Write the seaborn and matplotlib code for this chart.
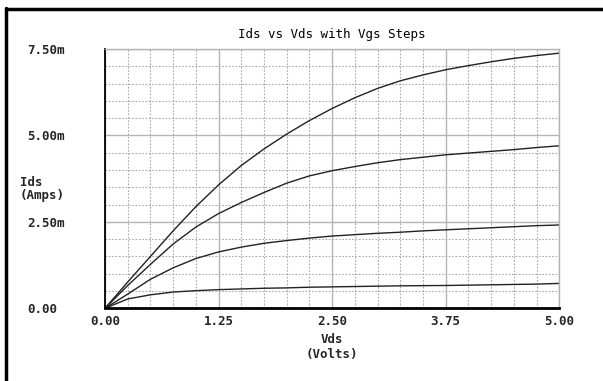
import matplotlib
matplotlib.use("Agg")
import matplotlib.pyplot as plt
from matplotlib.lines import Line2D
from matplotlib.ticker import MultipleLocator, FixedLocator
import numpy as np
import pandas as pd
import seaborn as sns

# drain voltage sweep (Volts)
vds = [0.0, 0.25, 0.5, 0.75, 1.0, 1.25, 1.5, 1.75, 2.0, 2.25, 2.5,
       2.75, 3.0, 3.25, 3.5, 3.75, 4.0, 4.25, 4.5, 4.75, 5.0]

# drain current per Vgs step (mA)
ids_step4 = [0.0, 0.76, 1.50, 2.24, 2.94, 3.57, 4.13, 4.61, 5.04, 5.43, 5.78,
             6.09, 6.36, 6.58, 6.75, 6.90, 7.02, 7.13, 7.23, 7.31, 7.38]
ids_step3 = [0.0, 0.66, 1.27, 1.86, 2.35, 2.74, 3.06, 3.35, 3.62, 3.83, 3.98,
             4.10, 4.21, 4.30, 4.37, 4.44, 4.49, 4.54, 4.59, 4.65, 4.70]
ids_step2 = [0.0, 0.41, 0.84, 1.17, 1.44, 1.63, 1.77, 1.88, 1.96, 2.03, 2.09,
             2.13, 2.17, 2.20, 2.24, 2.27, 2.30, 2.33, 2.36, 2.39, 2.41]
ids_step1 = [0.0, 0.27, 0.39, 0.47, 0.51, 0.54, 0.56, 0.58, 0.59, 0.61, 0.62,
             0.63, 0.64, 0.65, 0.655, 0.66, 0.67, 0.68, 0.69, 0.70, 0.72]

x_ticks = [0.0, 1.25, 2.5, 3.75, 5.0]
x_tick_labels = ["0.00", "1.25", "2.50", "3.75", "5.00"]
y_ticks = [0.0, 2.5, 5.0, 7.5]
y_tick_labels = ["0.00", "2.50m", "5.00m", "7.50m"]

frames = []
for name, vals in [("step1", ids_step1), ("step2", ids_step2),
                   ("step3", ids_step3), ("step4", ids_step4)]:
    frames.append(pd.DataFrame({"Vds": vds, "Ids": vals, "step": name}))
df = pd.concat(frames, ignore_index=True)

sns.set_style("white")
plt.rcParams["font.family"] = ["DejaVu Sans Mono", "DejaVu Sans"]

fig = plt.figure(figsize=(6.03, 3.81), dpi=100)
ax = fig.add_axes([105 / 603, 1 - 308.3 / 381, 454.3 / 603, 259.3 / 381])

sns.lineplot(data=df, x="Vds", y="Ids", hue="step", ax=ax,
             palette=["#222222"] * 4, linewidth=1.0, legend=False)

ax.set_xlim(0, 5)
ax.set_ylim(0, 7.5)
ax.xaxis.set_major_locator(FixedLocator(x_ticks))
ax.yaxis.set_major_locator(FixedLocator(y_ticks))
ax.xaxis.set_minor_locator(MultipleLocator(0.25))
ax.yaxis.set_minor_locator(MultipleLocator(0.5))
ax.set_xticklabels(x_tick_labels)
ax.set_yticklabels(y_tick_labels)

ax.grid(which="major", color="#b4b4b4", linewidth=1.0, linestyle="-")
ax.grid(which="minor", color="#a8a8a8", linewidth=0.8, linestyle=(0, (1.5, 1.5)))
ax.set_axisbelow(True)

for side in ["top", "right"]:
    ax.spines[side].set_color("#b4b4b4")
    ax.spines[side].set_linewidth(1.0)
ax.spines["left"].set_color("black")
ax.spines["left"].set_linewidth(1.3)
ax.spines["bottom"].set_color("black")
ax.spines["bottom"].set_linewidth(2.0)

ax.tick_params(axis="both", which="minor", length=0)
ax.tick_params(axis="y", which="major", length=5, width=1.5, color="black",
               direction="out", pad=51, labelsize=9)
ax.tick_params(axis="x", which="major", length=3, width=1.2, color="black",
               direction="out", pad=2, labelsize=9)
for lab in ax.get_yticklabels():
    lab.set_horizontalalignment("left")
    lab.set_fontweight("bold")
for lab in ax.get_xticklabels():
    lab.set_fontweight("bold")

ax.set_title("Ids vs Vds with Vgs Steps", fontsize=9, pad=8, color="black")

ax.set_ylabel("Ids\n(Amps)", rotation=0, fontsize=9, fontweight="bold",
              ha="left", va="center", multialignment="left", linespacing=1.05)
ax.yaxis.set_label_coords(-0.187, 0.46)
ax.set_xlabel("Vds\n(Volts)", fontsize=9, fontweight="bold",
              ha="center", va="top", linespacing=1.2)
ax.xaxis.set_label_coords(0.5, -0.095)

# window frame (top and left edges only)
fig.add_artist(Line2D([5.5 / 603, 1.0], [1 - 9 / 381, 1 - 9 / 381],
                      color="black", linewidth=2.5, transform=fig.transFigure))
fig.add_artist(Line2D([6 / 603, 6 / 603], [0.0, 1 - 8 / 381],
                      color="black", linewidth=2.5, transform=fig.transFigure))

plt.savefig("out.png", dpi=100)
